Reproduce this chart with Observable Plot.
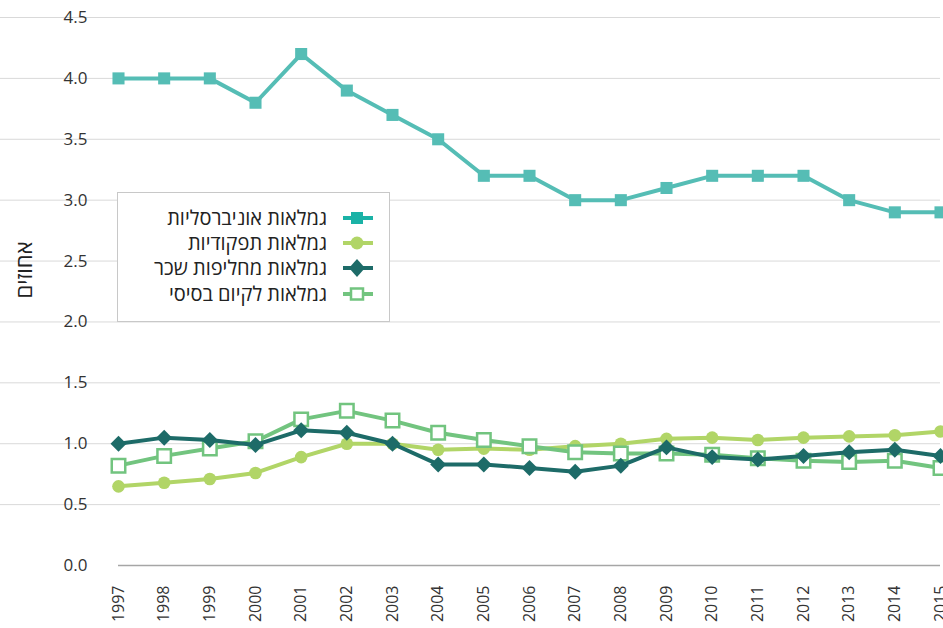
<!DOCTYPE html>
<html><head><meta charset="utf-8">
<script src="https://cdn.jsdelivr.net/npm/d3@7"></script>
<script src="https://cdn.jsdelivr.net/npm/@observablehq/plot@0.6"></script>
<style>
body{margin:0;background:#fff;font-family:"Open Sans","Noto Sans","DejaVu Sans",sans-serif}
#wrap{position:relative;width:943px;height:628px;overflow:hidden}
#ytitle{position:absolute;left:23px;top:270px;transform:translate(-50%,-50%) rotate(-90deg);font-size:22px;color:#222;white-space:nowrap;direction:rtl}
#legend{position:absolute;left:117px;top:192px;width:271px;height:128px;border:1px solid #c8c8c8;background:#fff}
.row{position:absolute;left:0;width:271px;height:24px}
.row span{position:absolute;right:62px;top:0;line-height:24px;font-size:20px;color:#222;direction:rtl;white-space:nowrap}
.row svg{position:absolute;left:224px;top:0}
</style></head>
<body><div id="wrap"><div id="chart"></div><div id="ytitle">אחוזים</div><div id="legend"></div></div>
<script>
const years = [1997,1998,1999,2000,2001,2002,2003,2004,2005,2006,2007,2008,2009,2010,2011,2012,2013,2014,2015];
const universal = [4.0,4.0,4.0,3.8,4.2,3.9,3.7,3.5,3.2,3.2,3.0,3.0,3.1,3.2,3.2,3.2,3.0,2.9,2.9];
const periodic  = [0.65,0.68,0.71,0.76,0.89,1.0,1.0,0.95,0.96,0.95,0.98,1.0,1.04,1.05,1.03,1.05,1.06,1.07,1.10];
const wage      = [1.0,1.05,1.03,0.99,1.11,1.09,1.0,0.83,0.83,0.80,0.77,0.82,0.97,0.89,0.87,0.90,0.93,0.95,0.90];
const basic     = [0.82,0.90,0.96,1.02,1.20,1.27,1.19,1.09,1.03,0.98,0.93,0.92,0.92,0.91,0.88,0.86,0.85,0.86,0.80];
const names = ["גמלאות אוניברסליות","גמלאות תפקודיות","גמלאות מחליפות שכר","גמלאות לקיום בסיסי"];
const yTicks = [0,0.5,1,1.5,2,2.5,3,3.5,4,4.5];

const series = [
  {name:names[0], values:universal, color:"#55bdb5", symbol:"square", r:6.8, fill:"#55bdb5"},
  {name:names[1], values:periodic,  color:"#b1d567", symbol:"circle", r:6.3, fill:"#b1d567"},
  {name:names[3], values:basic,     color:"#72c47f", symbol:"square", r:7.6, fill:"#fff"},
  {name:names[2], values:wage,      color:"#1d6b68", symbol:"diamond2", r:7.2, fill:"#1d6b68"}
];

const marks = [
  Plot.gridY(yTicks.filter(d=>d>0), {stroke:"#d9d9d9", strokeOpacity:1, x1:113}),
  Plot.ruleY([0], {stroke:"#a6a6a6", strokeWidth:1.5}),
  Plot.axisY({ticks:yTicks, tickFormat:d3.format(".1f"), tickSize:0, tickPadding:31, fontSize:17, label:null, fill:"#333"}),
  Plot.axisX({ticks:years, tickFormat:d=>String(d), tickRotate:-90, tickSize:0, tickPadding:20, fontSize:16, label:null, fill:"#333"})
];
for (const s of series) {
  const rows = years.map((y,i)=>({year:y, value:s.values[i]}));
  marks.push(Plot.line(rows, {x:"year", y:"value", stroke:s.color, strokeWidth:4}));
  marks.push(Plot.dot(rows, {x:"year", y:"value", symbol:()=>s.symbol, r:s.r, fill:s.fill, stroke:s.color, strokeWidth: s.fill==="#fff"?2.5:0}));
}

const chart = Plot.plot({
  width:943, height:628,
  marginLeft:118, marginRight:3, marginTop:17, marginBottom:63,
  style:{fontFamily:'"Open Sans","Noto Sans","DejaVu Sans",sans-serif', fontSize:"16px", background:"#fff", overflow:"visible"},
  x:{type:"linear", domain:[1997,2015]},
  y:{domain:[0,4.5]},
  marks
});
document.getElementById("chart").appendChild(chart);

// legend
const leg = document.getElementById("legend");
const legendItems = [
  {name:names[0], color:"#1ab2a6", kind:"square"},
  {name:names[1], color:"#b1d567", kind:"circle"},
  {name:names[2], color:"#1d6b68", kind:"diamond"},
  {name:names[3], color:"#72c47f", kind:"open"}
];
const rowTops = [13,38,63,89];
legendItems.forEach((it,i)=>{
  const row = document.createElement("div");
  row.className="row"; row.style.top = (rowTops[i]) + "px";
  let sym = "";
  if (it.kind==="square") sym = `<rect x="9" y="6" width="12" height="12" fill="${it.color}"/>`;
  if (it.kind==="circle") sym = `<circle cx="15" cy="12" r="6.5" fill="${it.color}"/>`;
  if (it.kind==="diamond") sym = `<path d="M15 3 L23 12 L15 21 L7 12 Z" fill="${it.color}"/>`;
  if (it.kind==="open") sym = `<rect x="9" y="6.5" width="12" height="11" fill="#fff" stroke="${it.color}" stroke-width="2.5"/>`;
  row.innerHTML = `<span>${it.name}</span><svg width="32" height="24"><line x1="1" x2="31" y1="12" y2="12" stroke="${it.color}" stroke-width="4"/>${sym}</svg>`;
  leg.appendChild(row);
});
</script>
</body></html>
